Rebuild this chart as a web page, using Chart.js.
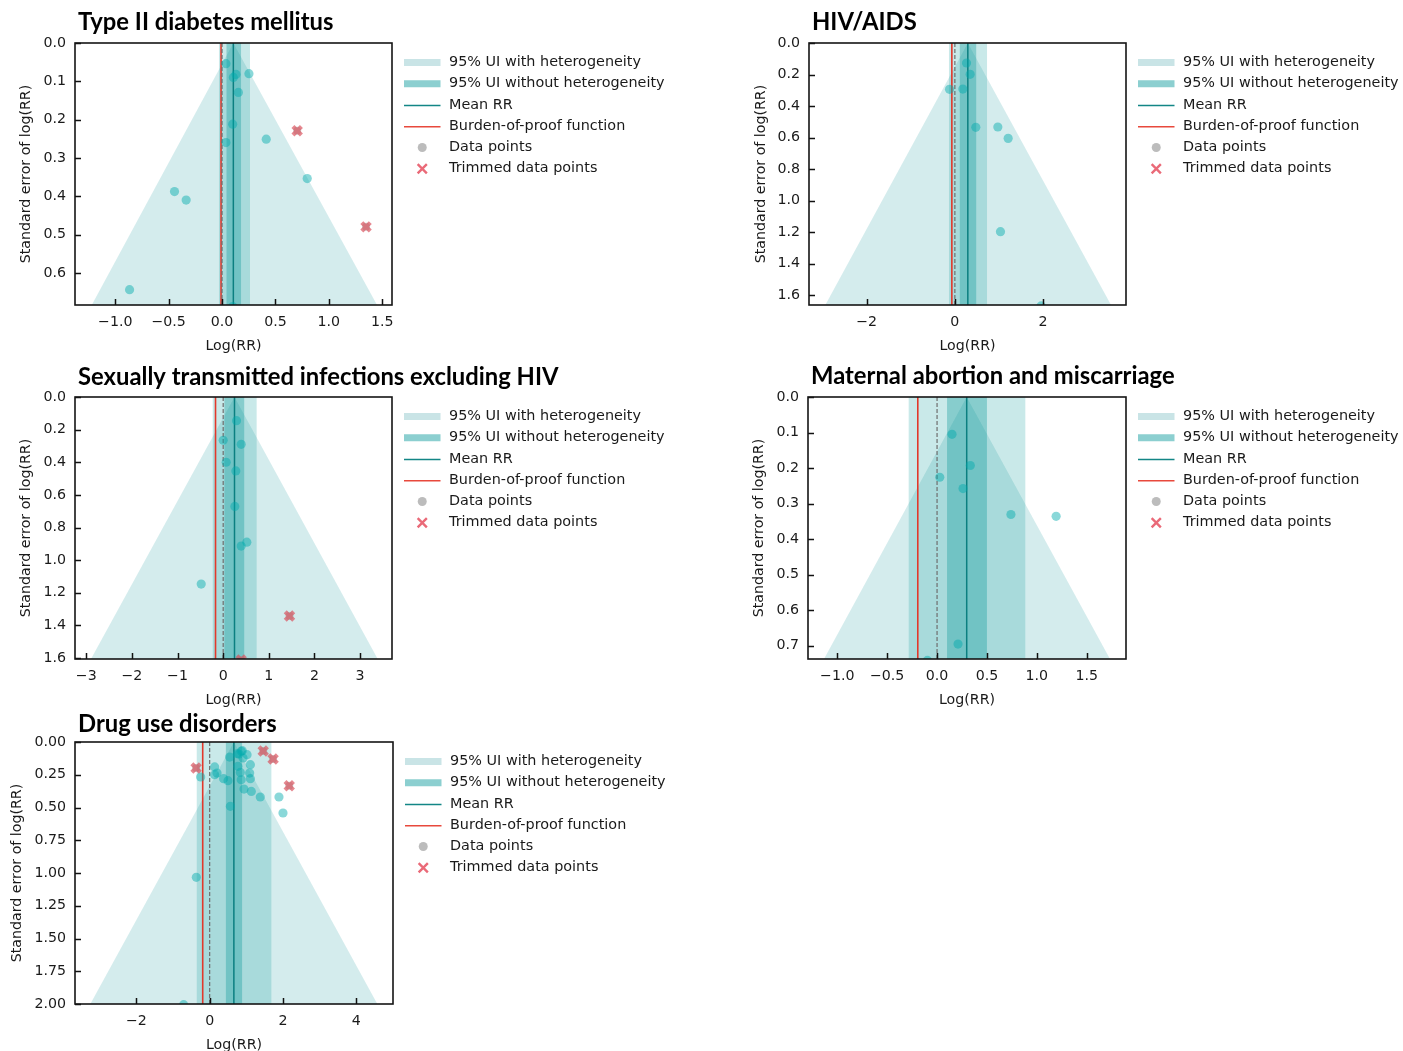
<!DOCTYPE html>
<html>
<head>
<meta charset="utf-8">
<title>Funnel plots</title>
<script src="https://cdn.jsdelivr.net/npm/chart.js@4.4.1/dist/chart.umd.min.js"></script>
<style>
  html, body { margin: 0; padding: 0; background: #ffffff; }
  body { position: relative; width: 1403px; height: 1051px; overflow: hidden; }
  canvas { position: absolute; }
</style>
</head>
<body>
<script>
// ---------- Type II diabetes mellitus ----------
const t2dmLogRR = [0.037, 0.131, 0.106, 0.252, 0.153, 0.100, 0.037, 0.414, 0.798, -0.445, -0.336, -0.866, 0.100];
const t2dmSE    = [0.054, 0.082, 0.090, 0.080, 0.129, 0.212, 0.260, 0.251, 0.354, 0.388, 0.410, 0.644, 0.688];
const t2dmTrimLogRR = [0.704, 1.349];
const t2dmTrimSE    = [0.229, 0.480];
const t2dmMean = 0.106;
const t2dmBurden = -0.009;
const t2dmUIWith = [-0.030, 0.262];
const t2dmUIWithout = [0.040, 0.180];
const t2dmFunnelBase = [-1.22, 1.452];
const t2dmXTicks = ['−1.0', '−0.5', '0.0', '0.5', '1.0', '1.5'];
const t2dmYTicks = ['0.0', '0.1', '0.2', '0.3', '0.4', '0.5', '0.6'];

// ---------- HIV/AIDS ----------
const hivLogRR = [0.264, 0.347, -0.121, 0.181, 0.475, 0.974, 1.208, 1.034, 1.955];
const hivSE    = [0.127, 0.199, 0.294, 0.292, 0.535, 0.533, 0.605, 1.197, 1.668];
const hivTrimLogRR = [];
const hivTrimSE    = [];
const hivMean = 0.294;
const hivBurden = -0.068;
const hivUIWith = [-0.136, 0.732];
const hivUIWithout = [0.106, 0.490];
const hivFunnelBase = [-2.936, 3.540];
const hivXTicks = ['−2', '0', '2'];
const hivYTicks = ['0.0', '0.2', '0.4', '0.6', '0.8', '1.0', '1.2', '1.4', '1.6'];

// ---------- Sexually transmitted infections excluding HIV ----------
const stiLogRR = [0.292, 0.000, 0.394, 0.066, 0.277, 0.255, 0.518, 0.394, -0.482];
const stiSE    = [0.145, 0.265, 0.290, 0.400, 0.453, 0.671, 0.890, 0.914, 1.147];
const stiTrimLogRR = [1.453, 0.394];
const stiTrimSE    = [1.343, 1.612];
const stiMean = 0.248;
const stiBurden = -0.168;
const stiUIWith = [-0.234, 0.737];
const stiUIWithout = [0.022, 0.467];
const stiFunnelBase = [-2.898, 3.387];
const stiXTicks = ['−3', '−2', '−1', '0', '1', '2', '3'];
const stiYTicks = ['0.0', '0.2', '0.4', '0.6', '0.8', '1.0', '1.2', '1.4', '1.6'];

// ---------- Maternal abortion and miscarriage ----------
const matLogRR = [0.150, 0.333, 0.027, 0.260, 0.740, 1.193, 0.210, -0.097];
const matSE    = [0.105, 0.193, 0.226, 0.258, 0.331, 0.336, 0.696, 0.742];
const matTrimLogRR = [];
const matTrimSE    = [];
const matMean = 0.297;
const matBurden = -0.193;
const matUIWith = [-0.287, 0.887];
const matUIWithout = [0.100, 0.500];
const matFunnelBase = [-1.133, 1.733];
const matXTicks = ['−1.0', '−0.5', '0.0', '0.5', '1.0', '1.5'];
const matYTicks = ['0.0', '0.1', '0.2', '0.3', '0.4', '0.5', '0.6', '0.7'];

// ---------- Drug use disorders ----------
const drugLogRR = [-0.245, 0.136, 0.136, 0.200, 0.380, 0.500, 0.545, 0.755, 0.890, 1.020, 0.910, 0.770,
                   0.836, 1.110, 0.860, 1.090, 1.110, 0.936, 1.136, 1.380, 1.890, 2.000, 0.564, -0.364,
                   -0.710, 0.860, 0.800];
const drugSE    = [0.267, 0.190, 0.250, 0.237, 0.280, 0.295, 0.115, 0.089, 0.066, 0.097, 0.122, 0.186,
                   0.232, 0.173, 0.288, 0.237, 0.280, 0.359, 0.377, 0.420, 0.420, 0.542, 0.491, 1.033,
                   2.005, 0.071, 0.092];
const drugTrimLogRR = [-0.370, 1.460, 1.730, 2.170];
const drugTrimSE    = [0.198, 0.068, 0.130, 0.334];
const drugMean = 0.660;
const drugBurden = -0.190;
const drugUIWith = [-0.360, 1.690];
const drugUIWithout = [0.435, 0.890];
const drugFunnelBase = [-3.255, 4.573];
const drugXTicks = ['−2', '0', '2', '4'];
const drugYTicks = ['0.00', '0.25', '0.50', '0.75', '1.00', '1.25', '1.50', '1.75', '2.00'];

// Legend entries shared by every panel
const legendLabels = ['95% UI with heterogeneity', '95% UI without heterogeneity', 'Mean RR',
                      'Burden-of-proof function', 'Data points', 'Trimmed data points'];

// ---------- styling ----------
const FONT = "'DejaVu Sans', sans-serif";
const TEXT = '#1a1a1a';
const COLORS = {
  funnel: 'rgba(0,140,150,0.17)',
  uiWith: 'rgba(0,150,150,0.21)',
  uiWithout: 'rgba(0,150,150,0.33)',
  mean: '#0b7f80',
  burden: '#e2382b',
  zero: '#6e6e6e',
  point: 'rgba(0,170,172,0.46)',
  trimGray: 'rgba(150,150,150,0.5)',
  trim: 'rgba(218,80,92,0.68)',
  legWith: '#c9e4e6',
  legWithout: '#8ccfd0',
  legMean: '#138686',
  legBurden: '#e8493c',
  legPoint: '#bcbcbc',
  legTrim: '#ea6a78'
};

// Panel layout: plot-area placement on the page
const panels = [
  { title: 'Type II diabetes mellitus', left: 75, top: 43, w: 317, h: 262, titleGap: 13.5, yTitleOffset: 49,
    xMin: -1.377, xMax: 1.592, yMax: 0.684,
    logRR: t2dmLogRR, se: t2dmSE, trimLogRR: t2dmTrimLogRR, trimSE: t2dmTrimSE,
    mean: t2dmMean, burden: t2dmBurden, uiWith: t2dmUIWith, uiWithout: t2dmUIWithout,
    funnel: t2dmFunnelBase, xTicks: t2dmXTicks, yTicks: t2dmYTicks },
  { title: 'HIV/AIDS', left: 809, top: 43, w: 317, h: 262, titleGap: 13.5, yTitleOffset: 48,
    xMin: -3.306, xMax: 3.879, yMax: 1.662,
    logRR: hivLogRR, se: hivSE, trimLogRR: hivTrimLogRR, trimSE: hivTrimSE,
    mean: hivMean, burden: hivBurden, uiWith: hivUIWith, uiWithout: hivUIWithout,
    funnel: hivFunnelBase, xTicks: hivXTicks, yTicks: hivYTicks },
  { title: 'Sexually transmitted infections excluding HIV', left: 75, top: 397, w: 317, h: 262, titleGap: 12, yTitleOffset: 48.5,
    xMin: -3.248, xMax: 3.700, yMax: 1.606,
    logRR: stiLogRR, se: stiSE, trimLogRR: stiTrimLogRR, trimSE: stiTrimSE,
    mean: stiMean, burden: stiBurden, uiWith: stiUIWith, uiWithout: stiUIWithout,
    funnel: stiFunnelBase, xTicks: stiXTicks, yTicks: stiYTicks },
  { title: 'Maternal abortion and miscarriage', left: 808, top: 397, w: 318, h: 262, titleGap: 13.5, yTitleOffset: 49,
    xMin: -1.293, xMax: 1.893, yMax: 0.738,
    logRR: matLogRR, se: matSE, trimLogRR: matTrimLogRR, trimSE: matTrimSE,
    mean: matMean, burden: matBurden, uiWith: matUIWith, uiWithout: matUIWithout,
    funnel: matFunnelBase, xTicks: matXTicks, yTicks: matYTicks },
  { title: 'Drug use disorders', left: 75, top: 742, w: 318, h: 262, titleGap: 10.5, yTitleOffset: 57.5,
    xMin: -3.673, xMax: 5.0, yMax: 2.0,
    logRR: drugLogRR, se: drugSE, trimLogRR: drugTrimLogRR, trimSE: drugTrimSE,
    mean: drugMean, burden: drugBurden, uiWith: drugUIWith, uiWithout: drugUIWithout,
    funnel: drugFunnelBase, xTicks: drugXTicks, yTicks: drugYTicks }
];

const LEFT_AREA = 75, TOP_AREA = 43, BOTTOM_AREA = 52, RIGHT_AREA = 330;
const toNum = s => parseFloat(s.replace('−', '-'));

// Frame, inward ticks, panel title and legend
const decorPlugin = {
  id: 'decor',
  afterDraw(chart) {
    const p = chart.options.plugins.decor.panel;
    const { ctx, chartArea: a, scales: { x, y } } = chart;
    ctx.save();
    // inward tick marks on bottom and left
    ctx.strokeStyle = '#111';
    ctx.lineWidth = 1.5;
    ctx.beginPath();
    p.xTicks.forEach(lbl => {
      const px = Math.round(x.getPixelForValue(toNum(lbl))) + 0.5;
      ctx.moveTo(px, a.bottom); ctx.lineTo(px, a.bottom - 6);
    });
    p.yTicks.forEach(lbl => {
      const py = Math.round(y.getPixelForValue(toNum(lbl))) + 0.5;
      ctx.moveTo(a.left, py); ctx.lineTo(a.left + 6, py);
    });
    ctx.stroke();
    // frame
    ctx.lineWidth = 1.6;
    ctx.strokeStyle = '#151515';
    ctx.strokeRect(a.left, a.top, a.right - a.left, a.bottom - a.top);

    // title
    ctx.fillStyle = '#000';
    ctx.font = "bold 23.8px Lato, 'Open Sans', sans-serif";
    ctx.textBaseline = 'alphabetic';
    ctx.textAlign = 'left';
    ctx.fillText(p.title, a.left + 3, a.top - p.titleGap);

    // legend
    const lx = a.right + 12, ly = a.top + 19.5, step = 21.25, sw = 36.5;
    ctx.font = '14.4px ' + FONT;
    ctx.textBaseline = 'middle';
    legendLabels.forEach((label, i) => {
      const cy = ly + i * step;
      if (i === 0 || i === 1) {
        ctx.fillStyle = i === 0 ? COLORS.legWith : COLORS.legWithout;
        ctx.fillRect(lx, cy - 3.5, sw, 7);
      } else if (i === 2 || i === 3) {
        ctx.strokeStyle = i === 2 ? COLORS.legMean : COLORS.legBurden;
        ctx.lineWidth = 1.5;
        ctx.beginPath(); ctx.moveTo(lx, cy + 0.5); ctx.lineTo(lx + sw, cy + 0.5); ctx.stroke();
      } else if (i === 4) {
        ctx.fillStyle = COLORS.legPoint;
        ctx.beginPath(); ctx.arc(lx + sw / 2, cy, 4.5, 0, Math.PI * 2); ctx.fill();
      } else {
        ctx.strokeStyle = COLORS.legTrim;
        ctx.lineWidth = 2.4;
        const r = 4.6, cx = lx + sw / 2;
        ctx.beginPath();
        ctx.moveTo(cx - r, cy - r); ctx.lineTo(cx + r, cy + r);
        ctx.moveTo(cx - r, cy + r); ctx.lineTo(cx + r, cy - r);
        ctx.stroke();
      }
      ctx.fillStyle = TEXT;
      ctx.fillText(label, lx + 45, cy);
    });
    ctx.restore();
  }
};

function buildPanel(p) {
  const W = LEFT_AREA + p.w + RIGHT_AREA, H = TOP_AREA + p.h + BOTTOM_AREA;
  const cv = document.createElement('canvas');
  cv.width = W; cv.height = H;
  cv.style.width = W + 'px'; cv.style.height = H + 'px';
  cv.style.left = (p.left - LEFT_AREA) + 'px';
  cv.style.top = (p.top - TOP_AREA) + 'px';
  document.body.appendChild(cv);

  const yMax = p.yMax;
  const band = (range) => [{ x: range[0], y: 0 }, { x: range[1], y: 0 }];
  const vline = (v) => [{ x: v, y: 0 }, { x: v, y: yMax }];
  const areaStyle = { type: 'line', borderWidth: 0, pointRadius: 0, tension: 0, fill: { value: yMax }, clip: 0 };
  const lineStyle = { type: 'line', pointRadius: 0, tension: 0, fill: false, clip: 0 };

  const datasets = [
    Object.assign({}, areaStyle, { order: 9, backgroundColor: COLORS.funnel,
      data: [{ x: p.funnel[0], y: yMax }, { x: p.mean, y: 0 }, { x: p.funnel[1], y: yMax }] }),
    Object.assign({}, areaStyle, { order: 8, backgroundColor: COLORS.uiWith, data: band(p.uiWith) }),
    Object.assign({}, areaStyle, { order: 7, backgroundColor: COLORS.uiWithout, data: band(p.uiWithout) }),
    Object.assign({}, lineStyle, { order: 6, borderColor: COLORS.burden, borderWidth: 1.6, data: vline(p.burden) }),
    Object.assign({}, lineStyle, { order: 5, borderColor: COLORS.zero, borderWidth: 1.2, borderDash: [4, 2], data: vline(0) }),
    Object.assign({}, lineStyle, { order: 4, borderColor: COLORS.mean, borderWidth: 1.5, data: vline(p.mean) }),
    { type: 'scatter', order: 3, clip: 0, pointStyle: 'circle', pointRadius: 4.6, borderWidth: 0,
      backgroundColor: COLORS.point,
      data: p.logRR.map((v, i) => ({ x: v, y: p.se[i] })) },
    { type: 'scatter', order: 2, clip: 0, pointStyle: 'circle', pointRadius: 4, borderWidth: 0,
      backgroundColor: COLORS.trimGray,
      data: p.trimLogRR.map((v, i) => ({ x: v, y: p.trimSE[i] })) },
    { type: 'scatter', order: 1, clip: 0, pointStyle: 'crossRot', pointRadius: 6, borderWidth: 4.2,
      borderColor: COLORS.trim, backgroundColor: COLORS.trim,
      data: p.trimLogRR.map((v, i) => ({ x: v, y: p.trimSE[i] })) }
  ];

  const tickFont = { family: FONT, size: 14.2 };
  new Chart(cv, {
    type: 'scatter',
    data: { datasets },
    plugins: [decorPlugin],
    options: {
      responsive: false,
      animation: false,
      devicePixelRatio: 1,
      events: [],
      layout: { padding: { left: 0, top: TOP_AREA, right: RIGHT_AREA, bottom: 0 } },
      plugins: {
        legend: { display: false },
        tooltip: { enabled: false },
        decor: { panel: p }
      },
      scales: {
        x: {
          type: 'linear', min: p.xMin, max: p.xMax,
          grid: { display: false, drawTicks: false },
          border: { display: false },
          afterBuildTicks: s => { s.ticks = p.xTicks.map(l => ({ value: toNum(l) })); },
          afterFit: s => { s.height = BOTTOM_AREA; },
          ticks: {
            autoSkip: false, maxRotation: 0, padding: 9, color: TEXT, font: tickFont,
            callback: (v) => p.xTicks.find(l => Math.abs(toNum(l) - v) < 1e-9) || ''
          },
          title: { display: true, text: 'Log(RR)', color: TEXT, font: tickFont, padding: { top: 0, bottom: 2 } }
        },
        y: {
          type: 'linear', min: 0, max: yMax, reverse: true,
          grid: { display: false, drawTicks: false },
          border: { display: false },
          afterBuildTicks: s => { s.ticks = p.yTicks.map(l => ({ value: toNum(l) })); },
          afterFit: s => { s.width = LEFT_AREA; },
          ticks: {
            autoSkip: false, padding: 9, color: TEXT, font: tickFont,
            callback: (v) => p.yTicks.find(l => Math.abs(toNum(l) - v) < 1e-9) || ''
          },
          title: { display: true, text: 'Standard error of log(RR)', color: TEXT, font: tickFont,
                   padding: { top: LEFT_AREA - p.yTitleOffset - 8.5, bottom: 0 } }
        }
      }
    }
  });
}

panels.forEach(buildPanel);
</script>
</body>
</html>
